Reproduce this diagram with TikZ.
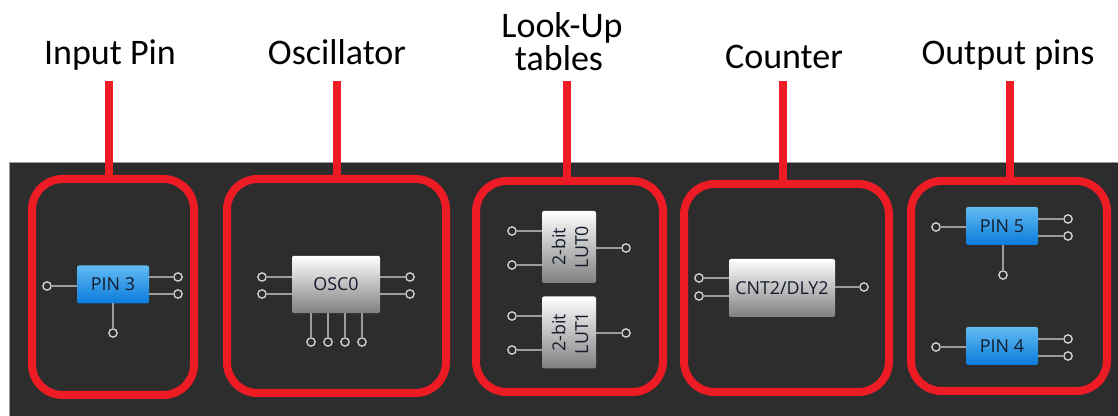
\documentclass[tikz,border=0pt]{standalone}
\usepackage{fontspec}
\setmainfont{Carlito}
\newfontfamily\blockfont{Open Sans}
\definecolor{panelc}{HTML}{2D2D2D}
\definecolor{redc}{HTML}{ED1C24}
\definecolor{wirec}{HTML}{9C9C9C}
\definecolor{portc}{HTML}{D0D0D0}
\definecolor{inkc}{HTML}{141B2B}
\definecolor{pintop}{HTML}{62BBF2}
\definecolor{pinbot}{HTML}{0A7BDC}
\tikzset{
  x=0.75pt,y=-0.75pt,
  panel/.style={fill=panelc,draw=gray!80,line width=0.5pt},
  groupbox/.style={draw=redc,line width=6pt,rounded corners=23pt,inner sep=0pt,outer sep=0pt},
  stem/.style={draw=redc,line width=6pt},
  title/.style={font=\fontsize{27}{27}\selectfont,text=black,inner sep=0pt,anchor=base},
  block/.style={rounded corners=1.5pt,inner sep=0pt,outer sep=0pt,text=inkc,font=\blockfont\fontsize{13.4}{15}\selectfont},
  pinblock/.style={block,top color=pintop,bottom color=pinbot,minimum width=54pt,minimum height=28.5pt},
  greyblock/.style={block,top color=white,bottom color=black!50},
  port/.style={circle,draw=portc,fill=panelc,line width=1.05pt,minimum size=6.2pt,inner sep=0pt,outer sep=0pt},
  wire/.style={draw=wirec,line width=0.9pt},
  lutlabel/.style={text=inkc,font=\blockfont\fontsize{13.4}{17}\selectfont,rotate=90,align=center,inner sep=0pt}
}
\begin{document}
\begin{tikzpicture}
\useasboundingbox (0,0) rectangle (1118,416);
\fill[white] (0,0) rectangle (1118,416);
\draw[panel] (9,162) rectangle (1119,417);
% titles
\node[title] (tinput) at (110,65) {Input Pin};
\node[title] (tosc) at (337,65) {Oscillator};
\node[title] (tlook) at (562,38) {Look-Up};
\node[title] (ttab) at (559,71) {tables};
\node[title] (tcnt) at (784,69) {Counter};
\node[title] (tout) at (1008,65) {Output pins};
% group boxes
\node[groupbox,minimum width=121.5pt,minimum height=162pt] (g1) at (113,287) {};
\node[groupbox,minimum width=164.25pt,minimum height=160.5pt] (g2) at (336.5,286) {};
\node[groupbox,minimum width=140.25pt,minimum height=158.25pt] (g3) at (569.5,286.5) {};
\node[groupbox,minimum width=153.75pt,minimum height=156pt] (g4) at (786.5,288) {};
\node[groupbox,minimum width=147pt,minimum height=157.5pt] (g5) at (1009,286) {};
% stems
\coordinate (s1) at (108.5,81);
\coordinate (s2) at (337,81);
\coordinate (s3) at (567,81);
\coordinate (s4) at (783,81);
\coordinate (s5) at (1010,81);
\foreach \i in {1,...,5} \draw[stem] (s\i) -- (s\i |- g\i.north);
% blocks
\node[pinblock] (pin3) at (113,284.5) {PIN 3};
\node[greyblock,minimum width=66pt,minimum height=43pt] (osc) at (336,284.5) {OSC0};
\node[greyblock,minimum width=40.5pt,minimum height=54pt] (lut0) at (569,247) {};
\node[lutlabel] (lut0t) at (570,247) {2-bit\\LUT0};
\node[greyblock,minimum width=40.5pt,minimum height=54pt] (lut1) at (569,332.5) {};
\node[lutlabel] (lut1t) at (570,333) {2-bit\\LUT1};
\node[greyblock,minimum width=79.5pt,minimum height=43.5pt] (cnt) at (782,288) {CNT2/DLY2};
\node[pinblock] (pin5) at (1002,226) {PIN 5};
\node[pinblock] (pin4) at (1002,346) {PIN 4};
% ports
\foreach \n/\x/\y in {a1/47/286,a2/178/277,a3/178/294,a4/113/333,
  b1/262/277,b2/262/294,b3/410/277,b4/410/294,b5/311/342,b6/328/342,b7/345/342,b8/362/342,
  c1/512/231,c2/512/265,c3/626/248,c4/512/316,c5/512/350,c6/626/333,
  d1/699/278,d2/699/296,d3/864/287,
  e1/936/227,e2/1068/219,e3/1068/236,e4/1003/275,
  f1/936/347,f2/1068/339,f3/1068/356}
  \node[port] (\n) at (\x,\y) {};
% wires
\foreach \p/\a in {a1/pin3.west,a2/pin3.east,a3/pin3.east,
  b1/osc.west,b2/osc.west,b3/osc.east,b4/osc.east,
  c1/lut0.west,c2/lut0.west,c3/lut0.east,c4/lut1.west,c5/lut1.west,c6/lut1.east,
  d1/cnt.west,d2/cnt.west,d3/cnt.east,
  e1/pin5.west,e2/pin5.east,e3/pin5.east,
  f1/pin4.west,f2/pin4.east,f3/pin4.east}
  \draw[wire] (\p) -- (\p -| \a);
\foreach \p/\a in {a4/pin3.south,b5/osc.south,b6/osc.south,b7/osc.south,b8/osc.south,e4/pin5.south}
  \draw[wire] (\p) -- (\p |- \a);
\end{tikzpicture}
\end{document}
